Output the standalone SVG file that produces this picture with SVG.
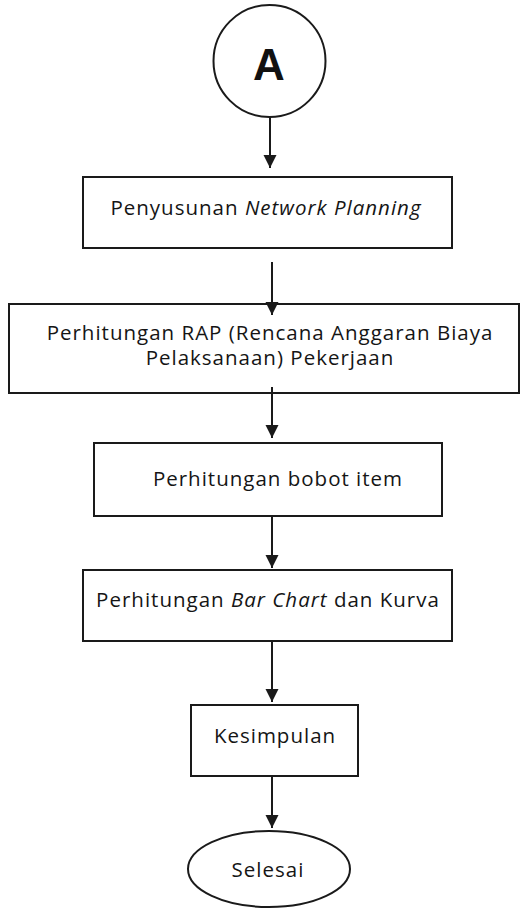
<svg xmlns="http://www.w3.org/2000/svg" width="520" height="915" viewBox="0 0 520 915">
  <style>
    .shape { fill: #ffffff; stroke: #1a1a1a; stroke-width: 2; }
    .label { font-family: "Open Sans", "Liberation Sans", sans-serif; font-size: 20.5px; letter-spacing: 1px; fill: #151515; text-anchor: middle; }
    .big { font-family: "Liberation Sans", "Open Sans", sans-serif; font-size: 44px; font-weight: bold; fill: #111111; text-anchor: middle; }
    .flow { stroke: #1a1a1a; stroke-width: 2; fill: none; marker-end: url(#head); }
  </style>
  <defs>
    <marker id="head" viewBox="0 0 10 10" refX="10" refY="5" markerWidth="6.5" markerHeight="7" markerUnits="strokeWidth" orient="auto">
      <path d="M0,0 L10,5 L0,10 Z" fill="#1a1a1a"/>
    </marker>
  </defs>
  <rect width="520" height="915" fill="#ffffff"/>

  <g id="start-A">
    <circle class="shape" cx="269.5" cy="61" r="56"/>
    <text class="big" x="269" y="80">A</text>
  </g>

  <g id="network-planning">
    <rect class="shape" x="83" y="177" width="369" height="71"/>
    <text class="label" x="266" y="215">Penyusunan <tspan font-style="italic">Network Planning</tspan></text>
  </g>

  <g id="rap">
    <rect class="shape" x="9" y="304" width="510" height="89"/>
    <text class="label" x="270" y="340">Perhitungan RAP (Rencana Anggaran Biaya</text>
    <text class="label" x="270" y="365">Pelaksanaan) Pekerjaan</text>
  </g>

  <g id="bobot-item">
    <rect class="shape" x="94" y="443" width="348" height="73"/>
    <text class="label" x="278" y="486">Perhitungan bobot item</text>
  </g>

  <g id="bar-chart">
    <rect class="shape" x="83" y="570" width="369" height="71"/>
    <text class="label" x="268" y="607">Perhitungan <tspan font-style="italic">Bar Chart</tspan> dan Kurva</text>
  </g>

  <g id="kesimpulan">
    <rect class="shape" x="191" y="705" width="167" height="71"/>
    <text class="label" x="275" y="743">Kesimpulan</text>
  </g>

  <g id="selesai">
    <ellipse class="shape" cx="269" cy="869" rx="81" ry="38"/>
    <text class="label" x="268" y="877">Selesai</text>
  </g>

  <g id="connectors">
    <line class="flow" x1="270" y1="117" x2="270" y2="168"/>
    <line class="flow" x1="272" y1="262" x2="272" y2="315"/>
    <line class="flow" x1="272" y1="387" x2="272" y2="438"/>
    <line class="flow" x1="272" y1="516" x2="272" y2="568"/>
    <line class="flow" x1="272" y1="641" x2="272" y2="702"/>
    <line class="flow" x1="272" y1="776" x2="272" y2="828"/>
  </g>
</svg>
